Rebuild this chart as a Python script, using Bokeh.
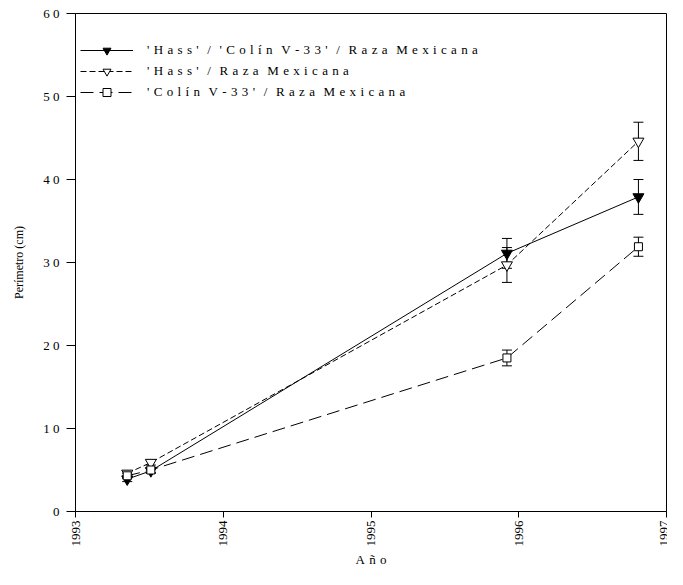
import math
from bokeh.plotting import figure
from bokeh.models import ColumnDataSource, Whisker, TeeHead, Legend, LegendItem, FixedTicker, Range1d
from bokeh.embed import file_html
from bokeh.resources import INLINE

# Data
years = [1993.35, 1993.51, 1995.92, 1996.81]
hass_colin = [3.9, 4.9, 31.1, 37.9]
hass_colin_err = [0.3, 0.3, 1.8, 2.1]
hass = [4.6, 5.9, 29.7, 44.6]
hass_err = [0.3, 0.3, 2.1, 2.3]
colin = [4.3, 5.0, 18.5, 31.9]
colin_err = [0.3, 0.3, 0.95, 1.15]

GAP = "\u00a0\u200a"
def spaced(s):
    # letter-spaced rendering as in the reference
    return GAP.join(s).replace(GAP + " " + GAP, GAP * 2)

labels = [
    spaced("'Hass' / 'Colín V-33' / Raza Mexicana"),
    spaced("'Hass' / Raza Mexicana"),
    spaced("'Colín V-33' / Raza Mexicana"),
]
y_ticks = [0, 10, 20, 30, 40, 50, 60]
y_tick_labels = ["0", "1 0", "2 0", "3 0", "4 0", "5 0", "6 0"]
x_ticks = [1993, 1994, 1995, 1996, 1997]

FONT = "Liberation Serif"

p = figure(width=667, height=569, output_backend="svg", toolbar_location=None,
           x_range=Range1d(1993, 1997), y_range=Range1d(0, 60),
           min_border_left=75, min_border_right=1, min_border_top=13, min_border_bottom=50)
p.grid.visible = False
p.outline_line_color = "black"
p.outline_line_width = 1
p.background_fill_color = "white"
p.border_fill_color = "white"

# axes
p.xaxis.ticker = FixedTicker(ticks=x_ticks)
p.xaxis.major_label_orientation = math.pi / 2
p.xaxis.axis_label = spaced("Año")
p.yaxis.ticker = FixedTicker(ticks=y_ticks)
p.yaxis.major_label_overrides = {t: l.replace(" ", "\u00a0") for t, l in zip(y_ticks, y_tick_labels)}
p.yaxis.axis_label = "Perímetro (cm)"
for ax in (p.xaxis[0], p.yaxis[0]):
    ax.major_label_text_font = FONT
    ax.major_label_text_font_size = "13px"
    ax.major_label_text_color = "black"
    ax.axis_label_text_font = FONT
    ax.axis_label_text_font_style = "normal"
    ax.axis_label_text_color = "black"
    ax.minor_tick_line_color = None
    ax.major_tick_in = 0
    ax.axis_line_color = "black"
    ax.major_tick_line_color = "black"
p.yaxis.major_tick_out = 9
p.xaxis.major_tick_out = 6
p.xaxis.axis_label_text_font_size = "13px"
p.yaxis.axis_label_text_font_size = "12px"
p.xaxis.major_label_standoff = 3
p.xaxis.axis_label_standoff = 2
p.yaxis.major_label_standoff = 7
p.yaxis.axis_label_standoff = 14

series = [
    (hass_colin, hass_colin_err, "solid", "inverted_triangle", "black", 11),
    (hass, hass_err, "6 3", "inverted_triangle", "white", 11),
    (colin, colin_err, "13 6", "square", "white", 8),
]

items = []
for (vals, errs, dash, marker, fill, size), lab in zip(series, labels):
    src = ColumnDataSource(dict(x=years, y=vals,
                                lo=[v - e for v, e in zip(vals, errs)],
                                hi=[v + e for v, e in zip(vals, errs)]))
    ln = p.line("x", "y", source=src, line_color="black", line_width=1, line_dash=dash)
    w = Whisker(base="x", lower="lo", upper="hi", source=src, dimension="height",
                line_color="black", line_width=1,
                upper_head=TeeHead(size=10, line_color="black", line_width=1),
                lower_head=TeeHead(size=10, line_color="black", line_width=1))
    p.add_layout(w)
    sc = p.scatter("x", "y", source=src, marker=marker, size=size,
                   fill_color=fill, line_color="black", line_width=1)
    items.append(LegendItem(label=lab, renderers=[ln, sc]))

legend = Legend(items=items, location=(5, 409), orientation="vertical",
                glyph_width=53, glyph_height=20, label_standoff=14, spacing=1,
                padding=0, margin=0, border_line_alpha=0, background_fill_alpha=0,
                label_text_font=FONT, label_text_font_size="13px", label_text_color="black",
                label_height=20)
p.add_layout(legend)

open("out.html", "w").write(file_html(p, INLINE))
